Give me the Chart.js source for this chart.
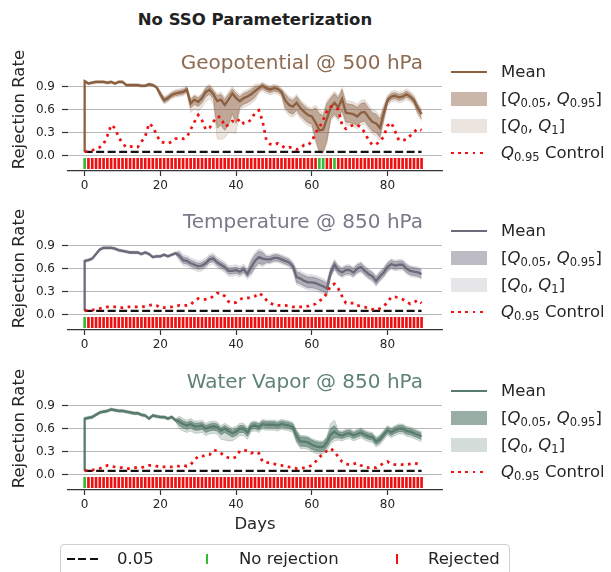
<!DOCTYPE html>
<html>
<head>
<meta charset="utf-8">
<script src="https://cdn.jsdelivr.net/npm/chart.js@4"></script>
<style>
  body { margin: 0; background: #fff; font-family: "DejaVu Sans", sans-serif; color: #222; }
  #fig { position: relative; width: 611px; height: 572px; overflow: hidden; background: #fff; }
  #fig canvas { position: absolute; left: 0; }
  .txt { position: absolute; white-space: nowrap; }
  .sw { position: absolute; }
  sub { font-size: 0.7em; vertical-align: -0.25em; }
  #bottomLegend { position: absolute; left: 60px; top: 544px; width: 448px; height: 40px;
    border: 1px solid #d0d0d0; border-radius: 4px; }
</style>
</head>
<body>
<div id="fig">
  <div class="txt" style="left:0;width:510px;top:10px;line-height:20px;text-align:center;font-weight:bold;font-size:16.5px;">No SSO Parameterization</div>
  <canvas id="c1" width="460" height="163" style="top:34px"></canvas>
  <canvas id="c2" width="460" height="163" style="top:193px"></canvas>
  <canvas id="c3" width="460" height="187" style="top:353px"></canvas>
  <div id="bottomLegend"></div>
</div>
<script>
const days = Array.from({length: 90}, (_, i) => i);
const xTicks = [0, 20, 40, 60, 80];
const yTicks = [0, 0.3, 0.6, 0.9];
const alphaLevel = 0.05;
const meanStart = 0.05;
const barSpan = [-0.17, -0.035];

// Geopotential @ 500 hPa
const meanGeo = [0.97,0.94,0.95,0.96,0.96,0.96,0.95,0.96,0.94,0.96,
  0.96,0.92,0.92,0.92,0.92,0.91,0.91,0.93,0.92,0.89,
  0.80,0.72,0.75,0.79,0.81,0.82,0.83,0.86,0.68,0.73,
  0.70,0.75,0.83,0.86,0.80,0.71,0.73,0.66,0.73,0.81,
  0.75,0.71,0.75,0.77,0.80,0.84,0.88,0.91,0.88,0.86,
  0.88,0.87,0.83,0.72,0.66,0.64,0.69,0.62,0.57,0.53,
  0.51,0.43,0.33,0.34,0.48,0.63,0.69,0.63,0.74,0.56,
  0.55,0.54,0.51,0.56,0.57,0.50,0.44,0.42,0.36,0.55,
  0.72,0.77,0.78,0.76,0.77,0.80,0.77,0.72,0.62,0.54];
const q05Geo = [0.96,0.93,0.94,0.95,0.95,0.95,0.94,0.95,0.93,0.95,
  0.95,0.91,0.91,0.91,0.91,0.90,0.90,0.92,0.91,0.88,
  0.77,0.69,0.72,0.76,0.78,0.79,0.80,0.83,0.62,0.67,
  0.64,0.69,0.77,0.80,0.74,0.36,0.40,0.33,0.40,0.55,
  0.42,0.63,0.67,0.69,0.72,0.76,0.84,0.87,0.84,0.82,
  0.84,0.83,0.79,0.62,0.56,0.54,0.59,0.52,0.47,0.43,
  0.41,0.22,0.05,0.04,0.20,0.48,0.54,0.48,0.59,0.44,
  0.43,0.42,0.39,0.44,0.45,0.38,0.32,0.30,0.24,0.47,
  0.68,0.73,0.74,0.72,0.73,0.76,0.73,0.68,0.56,0.48];
const q95Geo = [0.98,0.95,0.96,0.97,0.97,0.97,0.96,0.97,0.95,0.97,
  0.97,0.93,0.93,0.93,0.93,0.92,0.92,0.94,0.93,0.90,
  0.83,0.75,0.78,0.82,0.84,0.85,0.86,0.89,0.73,0.78,
  0.75,0.80,0.88,0.91,0.85,0.78,0.80,0.73,0.80,0.87,
  0.81,0.77,0.81,0.83,0.86,0.90,0.91,0.94,0.91,0.89,
  0.91,0.90,0.86,0.80,0.74,0.72,0.77,0.70,0.65,0.61,
  0.59,0.62,0.55,0.52,0.68,0.75,0.81,0.75,0.86,0.68,
  0.67,0.66,0.63,0.68,0.69,0.62,0.56,0.54,0.48,0.62,
  0.76,0.81,0.82,0.80,0.81,0.84,0.81,0.76,0.66,0.58];
const q0Geo = [0.95,0.92,0.93,0.94,0.94,0.94,0.93,0.94,0.92,0.94,
  0.94,0.90,0.90,0.90,0.90,0.89,0.89,0.91,0.90,0.87,
  0.75,0.67,0.70,0.74,0.76,0.77,0.78,0.81,0.56,0.61,
  0.58,0.63,0.71,0.74,0.68,0.22,0.21,0.23,0.30,0.30,
  0.29,0.59,0.63,0.65,0.68,0.72,0.81,0.84,0.81,0.79,
  0.81,0.80,0.76,0.58,0.52,0.50,0.55,0.48,0.43,0.39,
  0.37,0.17,0.03,0.03,0.15,0.45,0.51,0.45,0.56,0.40,
  0.39,0.38,0.35,0.40,0.41,0.34,0.28,0.26,0.20,0.44,
  0.65,0.70,0.71,0.69,0.70,0.73,0.70,0.65,0.53,0.45];
const q1Geo = [0.99,0.96,0.97,0.98,0.98,0.98,0.97,0.98,0.96,0.98,
  0.98,0.94,0.94,0.94,0.94,0.93,0.93,0.95,0.94,0.91,
  0.85,0.77,0.80,0.84,0.86,0.87,0.88,0.91,0.75,0.80,
  0.77,0.82,0.90,0.93,0.87,0.81,0.83,0.76,0.83,0.90,
  0.84,0.80,0.84,0.86,0.89,0.93,0.93,0.96,0.93,0.91,
  0.93,0.92,0.88,0.83,0.77,0.75,0.80,0.73,0.68,0.64,
  0.62,0.66,0.60,0.56,0.72,0.78,0.84,0.78,0.89,0.72,
  0.71,0.70,0.67,0.72,0.73,0.66,0.60,0.58,0.52,0.66,
  0.79,0.84,0.85,0.83,0.84,0.87,0.84,0.79,0.69,0.61];
const ctrlGeo = [0.05,0.06,0.07,0.09,0.11,0.15,0.26,0.40,0.36,0.24,
  0.16,0.11,0.12,0.11,0.11,0.18,0.25,0.42,0.38,0.27,
  0.18,0.17,0.16,0.18,0.22,0.23,0.22,0.24,0.34,0.44,
  0.53,0.46,0.34,0.36,0.44,0.51,0.50,0.38,0.40,0.45,
  0.43,0.48,0.42,0.43,0.47,0.56,0.59,0.45,0.20,0.15,
  0.14,0.16,0.13,0.10,0.11,0.10,0.08,0.10,0.14,0.14,
  0.18,0.30,0.37,0.46,0.58,0.64,0.64,0.60,0.40,0.35,
  0.38,0.40,0.40,0.37,0.30,0.20,0.14,0.15,0.18,0.25,
  0.39,0.43,0.32,0.20,0.20,0.21,0.26,0.31,0.35,0.33];
const keptGeo = [0, 62, 63, 66];

// Temperature @ 850 hPa
const meanTemp = [0.70,0.71,0.73,0.79,0.85,0.87,0.87,0.87,0.86,0.84,
  0.83,0.82,0.81,0.81,0.81,0.79,0.81,0.79,0.75,0.76,
  0.76,0.78,0.76,0.78,0.80,0.77,0.71,0.70,0.67,0.65,
  0.63,0.64,0.67,0.72,0.73,0.68,0.65,0.62,0.57,0.57,
  0.58,0.56,0.59,0.53,0.62,0.70,0.75,0.73,0.72,0.72,
  0.74,0.74,0.72,0.70,0.68,0.63,0.49,0.47,0.44,0.42,
  0.42,0.41,0.39,0.37,0.34,0.55,0.65,0.58,0.55,0.58,
  0.58,0.55,0.60,0.62,0.57,0.53,0.50,0.44,0.50,0.55,
  0.62,0.66,0.64,0.65,0.65,0.60,0.57,0.56,0.55,0.53];
const q05Temp = [0.69,0.70,0.72,0.78,0.84,0.86,0.86,0.86,0.85,0.83,
  0.82,0.81,0.80,0.80,0.80,0.78,0.80,0.78,0.74,0.75,
  0.75,0.77,0.75,0.77,0.79,0.73,0.67,0.66,0.63,0.61,
  0.59,0.60,0.63,0.68,0.69,0.64,0.61,0.58,0.53,0.53,
  0.54,0.52,0.55,0.49,0.54,0.62,0.67,0.65,0.68,0.68,
  0.70,0.70,0.68,0.66,0.64,0.59,0.42,0.40,0.37,0.35,
  0.35,0.34,0.32,0.30,0.27,0.50,0.60,0.53,0.50,0.53,
  0.53,0.50,0.55,0.57,0.52,0.48,0.45,0.39,0.45,0.50,
  0.57,0.61,0.59,0.60,0.60,0.55,0.52,0.51,0.50,0.48];
const q95Temp = [0.71,0.72,0.74,0.80,0.86,0.88,0.88,0.88,0.87,0.85,
  0.84,0.83,0.82,0.82,0.82,0.80,0.82,0.80,0.76,0.77,
  0.77,0.79,0.77,0.79,0.81,0.81,0.75,0.74,0.71,0.69,
  0.67,0.68,0.71,0.76,0.77,0.72,0.69,0.66,0.61,0.61,
  0.62,0.60,0.63,0.57,0.70,0.78,0.83,0.81,0.76,0.76,
  0.78,0.78,0.76,0.74,0.72,0.67,0.56,0.54,0.51,0.49,
  0.49,0.48,0.46,0.44,0.41,0.60,0.70,0.63,0.60,0.63,
  0.63,0.60,0.65,0.67,0.62,0.58,0.55,0.49,0.55,0.60,
  0.67,0.71,0.69,0.70,0.70,0.65,0.62,0.61,0.60,0.58];
const q0Temp = [0.68,0.69,0.71,0.77,0.83,0.85,0.85,0.85,0.84,0.82,
  0.81,0.80,0.79,0.79,0.79,0.77,0.79,0.77,0.73,0.74,
  0.74,0.76,0.74,0.76,0.78,0.70,0.64,0.63,0.60,0.58,
  0.56,0.57,0.60,0.65,0.66,0.61,0.58,0.55,0.50,0.50,
  0.51,0.49,0.52,0.46,0.51,0.59,0.64,0.62,0.66,0.66,
  0.68,0.68,0.66,0.64,0.62,0.57,0.39,0.37,0.34,0.32,
  0.32,0.31,0.29,0.27,0.24,0.48,0.58,0.51,0.48,0.51,
  0.51,0.48,0.53,0.55,0.50,0.46,0.43,0.37,0.43,0.48,
  0.55,0.59,0.57,0.58,0.58,0.53,0.50,0.49,0.48,0.46];
const q1Temp = [0.72,0.73,0.75,0.81,0.87,0.89,0.89,0.89,0.88,0.86,
  0.85,0.84,0.83,0.83,0.83,0.81,0.83,0.81,0.77,0.78,
  0.78,0.80,0.78,0.80,0.82,0.84,0.78,0.77,0.74,0.72,
  0.70,0.71,0.74,0.79,0.80,0.75,0.72,0.69,0.64,0.64,
  0.65,0.63,0.66,0.60,0.73,0.81,0.86,0.84,0.78,0.78,
  0.80,0.80,0.78,0.76,0.74,0.69,0.59,0.57,0.54,0.52,
  0.52,0.51,0.49,0.47,0.44,0.62,0.72,0.65,0.62,0.65,
  0.65,0.62,0.67,0.69,0.64,0.60,0.57,0.51,0.57,0.62,
  0.69,0.73,0.71,0.72,0.72,0.67,0.64,0.63,0.62,0.60];
const ctrlTemp = [0.05,0.06,0.06,0.07,0.08,0.09,0.10,0.10,0.10,0.09,
  0.09,0.10,0.10,0.10,0.10,0.10,0.11,0.12,0.13,0.12,
  0.09,0.09,0.10,0.10,0.11,0.12,0.12,0.12,0.13,0.18,
  0.21,0.20,0.20,0.21,0.24,0.28,0.28,0.24,0.17,0.15,
  0.16,0.20,0.22,0.22,0.22,0.24,0.28,0.25,0.19,0.15,
  0.13,0.12,0.12,0.12,0.11,0.10,0.10,0.10,0.10,0.11,
  0.12,0.14,0.18,0.21,0.28,0.38,0.40,0.34,0.24,0.15,
  0.15,0.15,0.12,0.11,0.10,0.08,0.07,0.06,0.08,0.11,
  0.16,0.23,0.23,0.22,0.20,0.17,0.14,0.16,0.19,0.15];
const keptTemp = [0];

// Water Vapor @ 850 hPa
const meanWv = [0.73,0.74,0.75,0.78,0.81,0.82,0.83,0.85,0.84,0.83,
  0.83,0.82,0.81,0.80,0.80,0.78,0.77,0.73,0.77,0.76,
  0.75,0.75,0.73,0.75,0.71,0.69,0.66,0.64,0.66,0.63,
  0.63,0.64,0.60,0.62,0.63,0.62,0.57,0.60,0.57,0.54,
  0.56,0.60,0.60,0.55,0.63,0.64,0.62,0.66,0.65,0.65,
  0.65,0.64,0.66,0.65,0.64,0.62,0.50,0.43,0.43,0.42,
  0.39,0.37,0.36,0.36,0.42,0.52,0.56,0.52,0.51,0.53,
  0.54,0.51,0.53,0.55,0.52,0.50,0.49,0.43,0.46,0.52,
  0.58,0.55,0.58,0.60,0.60,0.57,0.56,0.54,0.52,0.50];
const q05Wv = [0.72,0.73,0.74,0.77,0.80,0.81,0.82,0.84,0.83,0.82,
  0.82,0.81,0.80,0.79,0.79,0.77,0.76,0.72,0.76,0.75,
  0.74,0.74,0.72,0.74,0.70,0.64,0.61,0.59,0.61,0.58,
  0.58,0.59,0.55,0.57,0.58,0.57,0.52,0.55,0.52,0.49,
  0.51,0.55,0.55,0.50,0.59,0.60,0.58,0.62,0.61,0.61,
  0.61,0.60,0.62,0.61,0.60,0.58,0.44,0.37,0.37,0.36,
  0.33,0.31,0.30,0.30,0.36,0.44,0.48,0.48,0.47,0.49,
  0.50,0.47,0.49,0.51,0.48,0.46,0.45,0.39,0.42,0.48,
  0.54,0.51,0.54,0.56,0.56,0.53,0.52,0.50,0.48,0.46];
const q95Wv = [0.74,0.75,0.76,0.79,0.82,0.83,0.84,0.86,0.85,0.84,
  0.84,0.83,0.82,0.81,0.81,0.79,0.78,0.74,0.78,0.77,
  0.76,0.76,0.74,0.76,0.72,0.73,0.70,0.68,0.70,0.67,
  0.67,0.68,0.64,0.66,0.67,0.66,0.61,0.64,0.61,0.58,
  0.60,0.64,0.64,0.59,0.67,0.68,0.66,0.70,0.69,0.69,
  0.69,0.68,0.70,0.69,0.68,0.66,0.56,0.49,0.49,0.48,
  0.45,0.43,0.42,0.42,0.48,0.60,0.64,0.56,0.55,0.57,
  0.58,0.55,0.57,0.59,0.56,0.54,0.53,0.47,0.50,0.56,
  0.62,0.59,0.62,0.64,0.64,0.61,0.60,0.58,0.56,0.54];
const q0Wv = [0.71,0.72,0.73,0.76,0.79,0.80,0.81,0.83,0.82,0.81,
  0.81,0.80,0.79,0.78,0.78,0.76,0.75,0.71,0.75,0.74,
  0.73,0.73,0.71,0.73,0.69,0.60,0.57,0.55,0.57,0.54,
  0.54,0.55,0.51,0.53,0.54,0.53,0.46,0.45,0.44,0.44,
  0.47,0.51,0.51,0.46,0.56,0.57,0.55,0.59,0.58,0.58,
  0.58,0.57,0.59,0.58,0.57,0.55,0.41,0.34,0.34,0.33,
  0.30,0.28,0.27,0.27,0.31,0.40,0.44,0.45,0.44,0.46,
  0.47,0.44,0.46,0.48,0.45,0.43,0.42,0.36,0.39,0.45,
  0.51,0.48,0.51,0.53,0.53,0.50,0.49,0.47,0.45,0.43];
const q1Wv = [0.75,0.76,0.77,0.80,0.83,0.84,0.85,0.87,0.86,0.85,
  0.85,0.84,0.83,0.82,0.82,0.80,0.79,0.75,0.79,0.78,
  0.77,0.77,0.75,0.77,0.73,0.76,0.73,0.71,0.73,0.70,
  0.70,0.71,0.67,0.69,0.70,0.69,0.64,0.67,0.64,0.61,
  0.63,0.67,0.67,0.62,0.69,0.70,0.68,0.72,0.71,0.71,
  0.71,0.70,0.72,0.71,0.70,0.68,0.58,0.51,0.51,0.50,
  0.47,0.45,0.44,0.44,0.50,0.67,0.71,0.58,0.57,0.59,
  0.60,0.57,0.59,0.61,0.58,0.56,0.55,0.49,0.52,0.58,
  0.64,0.61,0.64,0.66,0.66,0.63,0.62,0.60,0.58,0.56];
const ctrlWv = [0.05,0.06,0.06,0.07,0.08,0.10,0.12,0.11,0.10,0.09,
  0.09,0.08,0.08,0.09,0.09,0.09,0.11,0.12,0.12,0.11,
  0.10,0.10,0.10,0.10,0.11,0.11,0.12,0.11,0.13,0.19,
  0.24,0.24,0.25,0.26,0.32,0.31,0.28,0.24,0.22,0.21,
  0.23,0.31,0.32,0.31,0.28,0.30,0.28,0.17,0.16,0.15,
  0.14,0.13,0.12,0.11,0.10,0.09,0.08,0.08,0.09,0.10,
  0.12,0.17,0.23,0.27,0.31,0.34,0.30,0.23,0.17,0.14,
  0.13,0.14,0.15,0.12,0.10,0.09,0.09,0.09,0.12,0.15,
  0.17,0.14,0.13,0.13,0.13,0.13,0.14,0.15,0.14,0.14];
const keptWv = [0];

const panels = [
  {canvas: 'c1', top: 34, title: 'Geopotential @ 500 hPa', rgb: [139, 96, 64], titleColor: '#8d6a50',
   midAlpha: 0.45, lightAlpha: 0.17,
   mean: meanGeo, q05: q05Geo, q95: q95Geo, q0: q0Geo, q1: q1Geo, ctrl: ctrlGeo, kept: keptGeo, xTitle: false},
  {canvas: 'c2', top: 193, title: 'Temperature @ 850 hPa', rgb: [108, 105, 122], titleColor: '#7b7888',
   midAlpha: 0.45, lightAlpha: 0.17,
   mean: meanTemp, q05: q05Temp, q95: q95Temp, q0: q0Temp, q1: q1Temp, ctrl: ctrlTemp, kept: keptTemp, xTitle: false},
  {canvas: 'c3', top: 353, title: 'Water Vapor @ 850 hPa', rgb: [88, 124, 108], titleColor: '#5f8373',
   midAlpha: 0.62, lightAlpha: 0.26,
   mean: meanWv, q05: q05Wv, q95: q95Wv, q0: q0Wv, q1: q1Wv, ctrl: ctrlWv, kept: keptWv, xTitle: true},
];

const RED = '#ee1111';
const GREEN = '#33bb33';
const INK = '#262626';
const PAD_TOP = 4, AREA_H = 133, Y_MIN = -0.2, Y_MAX = 1.4;

Chart.defaults.font.family = 'DejaVu Sans';
Chart.defaults.color = INK;

const rgba = (c, a) => `rgba(${c[0]},${c[1]},${c[2]},${a})`;
const pts = arr => days.map((d, i) => ({x: d, y: arr[i]}));

function makeChart(p) {
  const lineCol = rgba(p.rgb, 1);
  const midCol = rgba(p.rgb, p.midAlpha);
  const lightCol = rgba(p.rgb, p.lightAlpha);
  new Chart(document.getElementById(p.canvas), {
    type: 'line',
    data: {
      datasets: [
        {data: pts(p.q0), borderColor: lightCol, borderWidth: 1, fill: false, order: 7},
        {data: pts(p.q1), borderColor: lightCol, borderWidth: 1, backgroundColor: lightCol, fill: 0, order: 6},
        {data: pts(p.q05), borderColor: midCol, borderWidth: 1, fill: false, order: 5},
        {data: pts(p.q95), borderColor: midCol, borderWidth: 1, backgroundColor: midCol, fill: 2, order: 4},
        {data: [{x: days[0], y: meanStart}, ...pts(p.mean)], borderColor: lineCol, borderWidth: 2.3, fill: false, order: 3},
        {data: [{x: days[0], y: alphaLevel}, {x: days[days.length - 1], y: alphaLevel}],
         borderColor: '#111', borderWidth: 2.2, borderDash: [8, 3.5], fill: false, order: 2},
        {data: pts(p.ctrl), borderColor: RED, borderWidth: 2.75, borderDash: [2.75, 4.5], fill: false, order: 1},
        {type: 'bar', data: days.map(d => ({x: d, y: barSpan})), barThickness: 2,
         backgroundColor: days.map(d => p.kept.includes(d) ? GREEN : RED), order: 0},
      ]
    },
    options: {
      responsive: false,
      animation: false,
      events: [],
      elements: {point: {radius: 0}, line: {tension: 0, borderCapStyle: 'butt'}},
      layout: {padding: {top: PAD_TOP, right: 18, left: 0, bottom: 0}},
      plugins: {legend: {display: false}, tooltip: {enabled: false}},
      scales: {
        x: {
          type: 'linear', min: -4.4, max: 94.4, offset: false,
          afterBuildTicks: s => { s.ticks = xTicks.map(v => ({value: v})); },
          afterFit: s => { s.height = p.xTitle ? 50 : 26; },
          grid: {drawOnChartArea: false, offset: false, tickLength: 5, tickColor: '#333', tickWidth: 1.2},
          border: {display: true, color: '#333', width: 1.2},
          ticks: {font: {size: 12}, padding: 3, color: INK, maxRotation: 0},
          title: {display: p.xTitle, text: 'Days', font: {size: 16.5}, color: INK, padding: {top: 0, bottom: 5}}
        },
        y: {
          min: Y_MIN, max: Y_MAX,
          afterBuildTicks: s => { s.ticks = yTicks.map(v => ({value: v})); },
          afterFit: s => { s.width = 68; },
          grid: {color: '#b8b8b8', lineWidth: 1, tickLength: 6, tickColor: '#333', tickWidth: 1.2},
          border: {display: false},
          ticks: {font: {size: 12}, padding: 7, color: INK, callback: v => v.toFixed(1)},
          title: {display: true, text: 'Rejection Rate', font: {size: 16.5}, color: INK, padding: {top: 10, bottom: 0}}
        }
      }
    }
  });
}

const fig = document.getElementById('fig');
function addText(html, css) {
  const el = document.createElement('div');
  el.className = 'txt';
  el.innerHTML = html;
  Object.assign(el.style, css);
  fig.appendChild(el);
  return el;
}
function addSwatch(css) {
  const el = document.createElement('div');
  el.className = 'sw';
  Object.assign(el.style, css);
  fig.appendChild(el);
}

panels.forEach(p => {
  makeChart(p);
  const zero = p.top + PAD_TOP + AREA_H * Y_MAX / (Y_MAX - Y_MIN);
  addText(p.title, {right: '188px', top: (zero - 104) + 'px', lineHeight: '24px', fontSize: '20px', color: p.titleColor});
  const rows = [
    {html: 'Mean', sw: {height: '2.5px', background: rgba(p.rgb, 1)}, h: 2.5},
    {html: '[<i>Q</i><sub>0.05</sub>, <i>Q</i><sub>0.95</sub>]', sw: {height: '14px', background: rgba(p.rgb, p.midAlpha)}, h: 14},
    {html: '[<i>Q</i><sub>0</sub>, <i>Q</i><sub>1</sub>]', sw: {height: '14px', background: rgba(p.rgb, p.lightAlpha)}, h: 14},
    {html: '<i>Q</i><sub>0.95</sub> Control', sw: {height: '2.75px',
      background: `repeating-linear-gradient(90deg, ${RED} 0 2.75px, transparent 2.75px 7.25px)`}, h: 2.75},
  ];
  const offs = [-82.3, -55.3, -28.3, -1.3];
  rows.forEach((r, i) => {
    const cy = zero + offs[i];
    addSwatch(Object.assign({left: '451px', width: '36px', top: (cy - r.h / 2) + 'px'}, r.sw));
    addText(r.html, {left: '501px', top: (cy - 11) + 'px', lineHeight: '22px', fontSize: '16.5px', color: INK});
  });
});

// bottom legend
addSwatch({left: '67px', width: '34px', top: '558px', height: '2.2px',
  background: 'repeating-linear-gradient(90deg, #111 0 8px, transparent 8px 11.5px)'});
addText('0.05', {left: '117px', top: '548px', lineHeight: '22px', fontSize: '16.5px'});
addSwatch({left: '206px', width: '2px', top: '554px', height: '10px', background: GREEN});
addText('No rejection', {left: '239px', top: '548px', lineHeight: '22px', fontSize: '16.5px'});
addSwatch({left: '396px', width: '2px', top: '554px', height: '10px', background: RED});
addText('Rejected', {left: '428px', top: '548px', lineHeight: '22px', fontSize: '16.5px'});
</script>
</body>
</html>
